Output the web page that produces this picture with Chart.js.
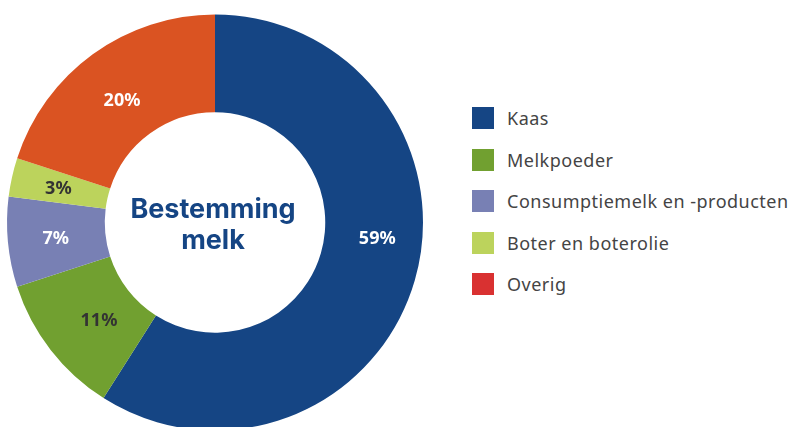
<!DOCTYPE html>
<html>
<head>
<meta charset="utf-8">
<script src="https://cdn.jsdelivr.net/npm/chart.js@4/dist/chart.umd.min.js"></script>
<style>
  html, body { margin: 0; padding: 0; background: #fff; overflow: hidden; }
  #wrap { position: relative; width: 791px; height: 427px; }
  #chart-box { position: absolute; left: 0; top: 0; width: 430px; height: 445px; }
  #legend { position: absolute; left: 472px; top: 107px; font-family: "Noto Sans", sans-serif; }
  .item { display: flex; align-items: center; height: 22px; margin-bottom: 19.5px; }
  .sw { width: 22px; height: 22px; margin-right: 13px; }
  .lbl { font-size: 18px; color: #444; white-space: nowrap; letter-spacing: 0.5px; }
</style>
</head>
<body>
<div id="wrap">
  <div id="chart-box"><canvas id="c"></canvas></div>
  <div id="legend"></div>
</div>
<script>
// Bestemming melk — share per product group
const labels = ['Kaas', 'Melkpoeder', 'Consumptiemelk en -producten', 'Boter en boterolie', 'Overig'];
const values = [59, 11, 7, 3, 20];
const sliceColors  = ['#154584', '#71a030', '#7880b4', '#bcd35c', '#da5322'];
const legendColors = ['#154584', '#71a030', '#7880b4', '#bcd35c', '#d93131'];
const labelColors  = ['#ffffff', '#333333', '#ffffff', '#333333', '#ffffff'];
const centerLines  = ['Bestemming', 'melk'];

document.getElementById('legend').innerHTML = labels
  .map((l, i) => `<div class="item"><div class="sw" style="background:${legendColors[i]}"></div><div class="lbl">${l}</div></div>`)
  .join('');

// label placed at arc mid-angle/mid-radius, with small nudges like the original
const sliceLabels = {
  id: 'sliceLabels',
  afterDatasetsDraw(chart, args, opts) {
    const ctx = chart.ctx;
    const meta = chart.getDatasetMeta(0);
    ctx.save();
    ctx.font = 'bold 18px "Noto Sans", sans-serif';
    ctx.textAlign = 'center';
    ctx.textBaseline = 'middle';
    meta.data.forEach((arc, i) => {
      const a = (arc.startAngle + arc.endAngle) / 2 + (opts.angleShift[i] || 0) * Math.PI / 180;
      const r = (arc.innerRadius + arc.outerRadius) / 2 + (opts.radiusShift[i] || 0);
      ctx.fillStyle = labelColors[i];
      ctx.fillText(values[i] + '%', arc.x + Math.cos(a) * r, arc.y + Math.sin(a) * r);
    });
    ctx.restore();
  }
};

const centerText = {
  id: 'centerText',
  afterDraw(chart) {
    const ctx = chart.ctx;
    const arc = chart.getDatasetMeta(0).data[0];
    ctx.save();
    ctx.font = 'bold 27px "Inter", sans-serif';
    ctx.fillStyle = '#154584';
    ctx.textAlign = 'center';
    ctx.textBaseline = 'alphabetic';
    ctx.fillText(centerLines[0], arc.x - 2, arc.y - 5);
    ctx.fillText(centerLines[1], arc.x - 2, arc.y + 26);
    ctx.restore();
  }
};

new Chart(document.getElementById('c'), {
  type: 'doughnut',
  data: {
    labels,
    datasets: [{
      data: values,
      backgroundColor: sliceColors,
      borderWidth: 0,
    }],
  },
  options: {
    responsive: true,
    maintainAspectRatio: false,
    animation: false,
    cutout: '53%',
    layout: { padding: { left: 7, right: 7, top: 14.5, bottom: 14.5 } },
    plugins: {
      legend: { display: false },
      tooltip: { enabled: false },
      sliceLabels: { angleShift: [-10.4, -2.5, -0.5, -0.6, -1.4], radiusShift: [4, -7, 1, 1, -6] },
    },
  },
  plugins: [sliceLabels, centerText],
});
</script>
</body>
</html>
